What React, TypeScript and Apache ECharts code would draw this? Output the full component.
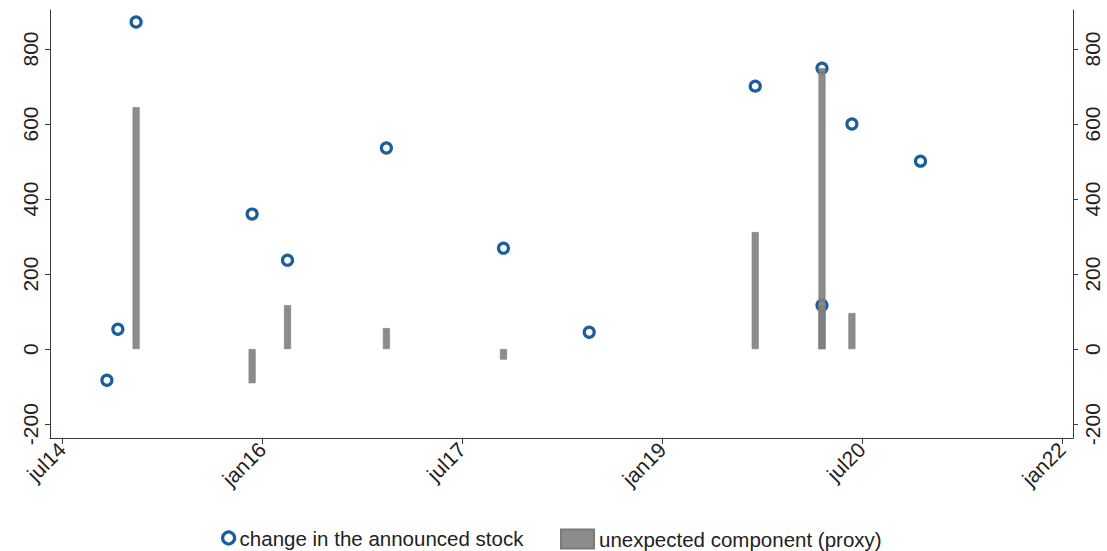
import React, { useEffect, useRef } from "react";
import * as echarts from "echarts";

// change in the announced stock (date, value)
const stockDates = [
  "2014-11-01", "2014-12-01", "2015-01-20", "2015-12-04", "2016-03-10", "2016-12-06",
  "2017-10-23", "2018-06-15", "2019-09-13", "2020-03-14", "2020-03-14", "2020-06-04", "2020-12-09",
];
const stockValues = [-83, 53, 872, 360, 237, 536, 269, 45, 701, 749, 117, 600, 501];

// unexpected component (proxy)
const proxyDates = [
  "2015-01-20", "2015-12-04", "2016-03-10", "2016-12-06", "2017-10-23",
  "2019-09-13", "2020-03-14", "2020-03-14", "2020-06-04",
];
const proxyValues = [645, -91, 117, 56, -28, 312, 749, 117, 96];

const xTickDates = ["2014-07-01", "2016-01-01", "2017-07-01", "2019-01-01", "2020-07-01", "2022-01-01"];
const xTickLabels = ["jul14", "jan16", "jul17", "jan19", "jul20", "jan22"];
const yTicks = [-200, 0, 200, 400, 600, 800];

const ts = (d: string) => Date.parse(d + "T00:00:00Z");

export default function App() {
  const ref = useRef<HTMLDivElement>(null);
  useEffect(() => {
    if (!ref.current) return;
    const chart = echarts.init(ref.current, null, { renderer: "svg" });
    const tickTs = xTickDates.map(ts);
    const font = "'Liberation Sans', Arial, Helvetica, sans-serif";
    const axisColor = "#3a3a3a";
    const yAxisCommon = {
      type: "value",
      min: -237,
      max: 904,
      splitLine: { show: false },
      axisLine: { show: true, lineStyle: { color: axisColor, width: 1 } },
      axisTick: { show: true, length: 5, customValues: yTicks, lineStyle: { color: axisColor } },
      axisLabel: {
        customValues: yTicks,
        rotate: 90,
        margin: 9,
        fontSize: 21,
        fontFamily: font,
        color: "#222",
      },
    };
    chart.setOption({
      animation: false,
      backgroundColor: "#ffffff",
      grid: { left: 50, right: 34, top: 10, bottom: 113, containLabel: false },
      xAxis: {
        type: "value",
        min: ts("2014-05-29"),
        max: ts("2022-01-31"),
        splitLine: { show: false },
        axisLine: { show: true, onZero: false, lineStyle: { color: axisColor } },
        axisTick: { show: true, length: 6, customValues: tickTs, lineStyle: { color: axisColor } },
        axisLabel: {
          customValues: tickTs,
          rotate: 45,
          margin: 8,
          fontSize: 21,
          fontFamily: font,
          color: "#222",
          formatter: (v: number) => {
            const i = tickTs.indexOf(v);
            return i >= 0 ? xTickLabels[i] : "";
          },
        },
      },
      yAxis: [
        { ...yAxisCommon, position: "left" },
        { ...yAxisCommon, position: "right" },
      ],
      legend: [
        {
          data: [{ name: "change in the announced stock", icon: "circle", itemStyle: { color: "#ffffff", borderColor: "#1b5e9e", borderWidth: 3.2 } }],
          left: 216,
          top: 522,
          itemWidth: 12,
          itemHeight: 12,
          itemGap: 0,
          textStyle: { fontSize: 20.5, fontFamily: font, color: "#222", lineHeight: 22 },
        },
        {
          data: [{ name: "unexpected component (proxy)", icon: "rect" }],
          left: 555,
          top: 523,
          itemWidth: 33,
          itemHeight: 19,
          textStyle: { fontSize: 20.5, fontFamily: font, color: "#222", lineHeight: 22 },
        },
      ],
      series: [
        {
          name: "change in the announced stock",
          type: "scatter",
          yAxisIndex: 0,
          z: 2,
          symbol: "circle",
          symbolSize: 10,
          itemStyle: { color: "#ffffff", borderColor: "#1b5e9e", borderWidth: 3.2, opacity: 1 },
          data: stockDates.map((d, i) => [ts(d), stockValues[i]]),
        },
        {
          name: "unexpected component (proxy)",
          type: "bar",
          yAxisIndex: 0,
          z: 3,
          barWidth: 7,
          barGap: "-100%",
          itemStyle: { color: "rgba(128,128,128,0.9)", borderColor: "#7a7a7a", borderWidth: 0.6 },
          data: proxyDates.map((d, i) => [ts(d), proxyValues[i]]),
        },
      ],
    });
    return () => chart.dispose();
  }, []);
  return <div ref={ref} style={{ width: 1107, height: 551, position: "absolute", left: 0, top: 0 }} />;
}
